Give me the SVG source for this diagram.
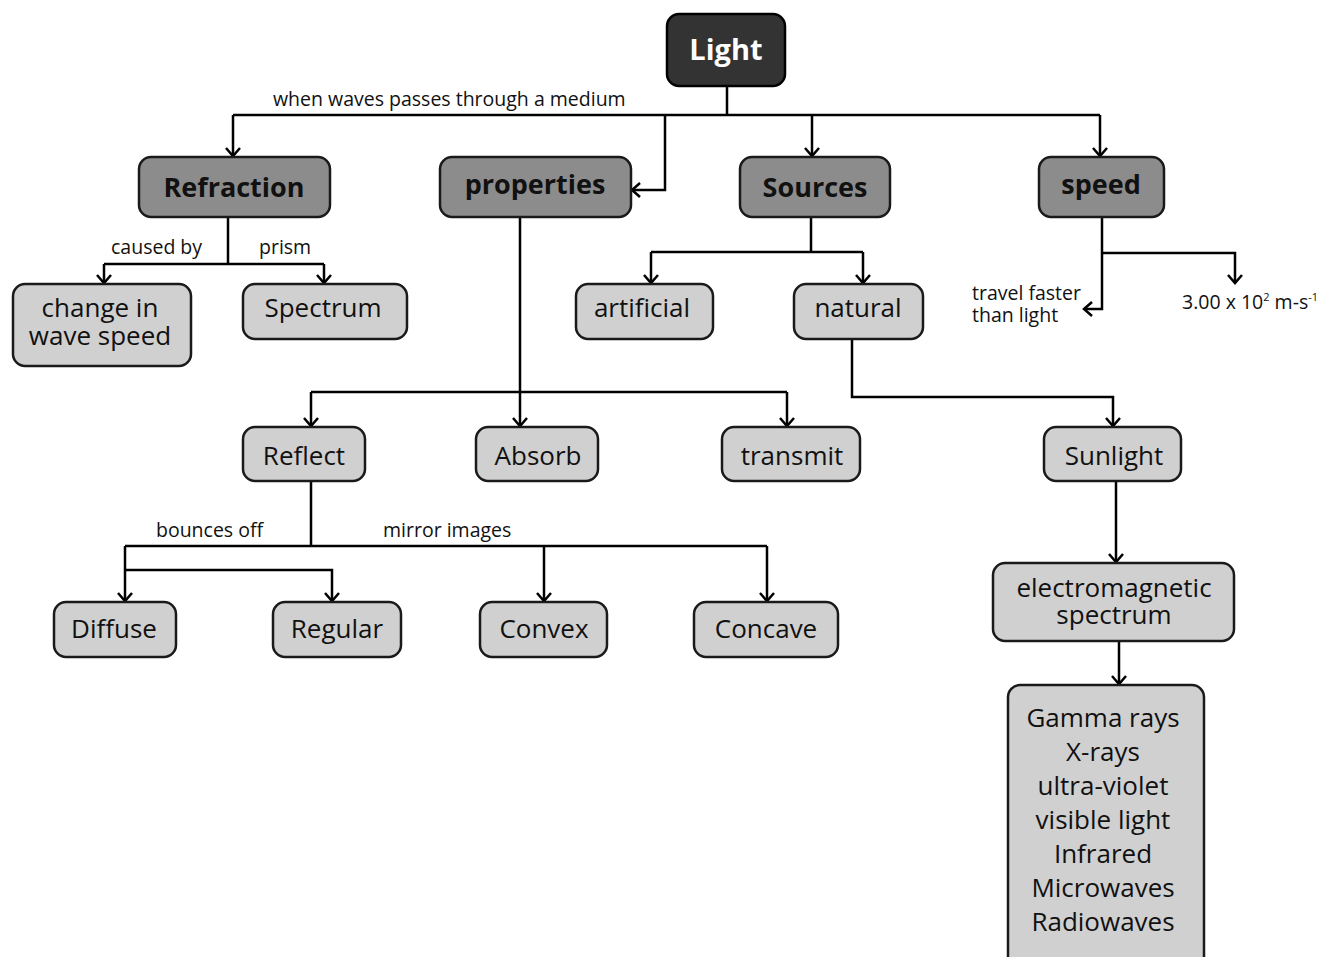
<svg xmlns="http://www.w3.org/2000/svg" width="1323" height="957" viewBox="0 0 1323 957">
<defs>
<marker id="arr" markerUnits="userSpaceOnUse" markerWidth="20" markerHeight="20" refX="11" refY="8" orient="auto">
<path d="M3,1 L11,8 L3,15" fill="none" stroke="#000" stroke-width="2.5"/>
</marker>
<style>
.bg{fill:#fff}
.root{fill:#333;stroke:#000;stroke-width:2.5}
.mid{fill:#8c8c8c;stroke:#1a1a1a;stroke-width:2.5}
.leaf{fill:#d0d0d0;stroke:#1a1a1a;stroke-width:2.5}
.c{fill:none;stroke:#000;stroke-width:2.5}
.ca{fill:none;stroke:#000;stroke-width:2.5;marker-end:url(#arr)}
text{font-family:"Open Sans","Liberation Sans",sans-serif;fill:#111}
.tb{font-weight:bold;font-size:27px;text-anchor:middle}
.tn{font-size:26px;text-anchor:middle}
.tl{font-size:19.5px}
</style>
</defs>
<rect class="bg" x="0" y="0" width="1323" height="957"/>
<g id="connectors">
<path class="c" d="M727,86 V115 M233,115 H1100"/>
<path class="ca" d="M233,115 V156"/>
<path class="ca" d="M665,115 V190 H632"/>
<path class="ca" d="M812,115 V156"/>
<path class="ca" d="M1100,115 V156"/>
<path class="c" d="M228,217 V264 M104,264 H324"/>
<path class="ca" d="M104,264 V283"/>
<path class="ca" d="M324,264 V283"/>
<path class="c" d="M520,217 V392 M311,392 H787"/>
<path class="ca" d="M311,392 V426"/>
<path class="ca" d="M520,392 V426"/>
<path class="ca" d="M787,392 V426"/>
<path class="c" d="M811,217 V252 M651,252 H863"/>
<path class="ca" d="M651,252 V283"/>
<path class="ca" d="M863,252 V283"/>
<path class="ca" d="M852,339 V397 H1113 V426"/>
<path class="ca" d="M1116,481 V562"/>
<path class="ca" d="M1119,641 V684"/>
<path class="ca" d="M1102,217 V309 H1084"/>
<path class="ca" d="M1102,253 H1235 V283"/>
<path class="c" d="M311,481 V546 M125,546 H767"/>
<path class="ca" d="M125,546 V601"/>
<path class="ca" d="M125,570 H332 V601"/>
<path class="ca" d="M544,546 V601"/>
<path class="ca" d="M767,546 V601"/>
</g>
<g id="labels">
<text class="tl" x="273" y="106">when waves passes through a medium</text>
<text class="tl" x="111" y="254">caused by</text>
<text class="tl" x="259" y="254">prism</text>
<text class="tl" x="156" y="537">bounces off</text>
<text class="tl" x="383" y="537">mirror images</text>
<text class="tl" x="972" y="300">travel faster<tspan x="972" dy="22">than light</tspan></text>
<text class="tl" x="1182" y="309">3.00 x 10<tspan font-size="11" dy="-8">2</tspan><tspan dy="8"> m-s</tspan><tspan font-size="11" dy="-8">-1</tspan></text>
</g>
<g id="light"><rect class="root" x="667" y="14" width="118" height="72" rx="12"/><text class="tb" x="726" y="60" style="fill:#fff;font-size:29px">Light</text></g>
<g id="refraction"><rect class="mid" x="139" y="157" width="191" height="60" rx="12"/><text class="tb" x="234" y="197">Refraction</text></g>
<g id="properties"><rect class="mid" x="440" y="157" width="191" height="60" rx="12"/><text class="tb" x="535" y="194">properties</text></g>
<g id="sources"><rect class="mid" x="740" y="157" width="150" height="60" rx="12"/><text class="tb" x="815" y="197">Sources</text></g>
<g id="speed"><rect class="mid" x="1039" y="157" width="125" height="60" rx="12"/><text class="tb" x="1101" y="194">speed</text></g>
<g id="change"><rect class="leaf" x="13" y="284" width="178" height="82" rx="12"/><text class="tn" x="100" y="317">change in<tspan x="100" dy="28">wave speed</tspan></text></g>
<g id="spectrum"><rect class="leaf" x="243" y="284" width="164" height="55" rx="12"/><text class="tn" x="323" y="317">Spectrum</text></g>
<g id="artificial"><rect class="leaf" x="576" y="284" width="137" height="55" rx="12"/><text class="tn" x="642" y="317">artificial</text></g>
<g id="natural"><rect class="leaf" x="794" y="284" width="129" height="55" rx="12"/><text class="tn" x="858" y="317">natural</text></g>
<g id="reflect"><rect class="leaf" x="243" y="427" width="122" height="54" rx="12"/><text class="tn" x="304" y="465">Reflect</text></g>
<g id="absorb"><rect class="leaf" x="476" y="427" width="122" height="54" rx="12"/><text class="tn" x="538" y="465">Absorb</text></g>
<g id="transmit"><rect class="leaf" x="722" y="427" width="138" height="54" rx="12"/><text class="tn" x="792" y="465">transmit</text></g>
<g id="sunlight"><rect class="leaf" x="1044" y="427" width="137" height="54" rx="12"/><text class="tn" x="1114" y="465">Sunlight</text></g>
<g id="em"><rect class="leaf" x="993" y="563" width="241" height="78" rx="12"/><text class="tn" x="1114" y="597">electromagnetic<tspan x="1114" dy="27">spectrum</tspan></text></g>
<g id="diffuse"><rect class="leaf" x="54" y="602" width="122" height="55" rx="12"/><text class="tn" x="114" y="638">Diffuse</text></g>
<g id="regular"><rect class="leaf" x="273" y="602" width="128" height="55" rx="12"/><text class="tn" x="337" y="638">Regular</text></g>
<g id="convex"><rect class="leaf" x="480" y="602" width="127" height="55" rx="12"/><text class="tn" x="544" y="638">Convex</text></g>
<g id="concave"><rect class="leaf" x="694" y="602" width="144" height="55" rx="12"/><text class="tn" x="766" y="638">Concave</text></g>
<g id="waves"><rect class="leaf" x="1008" y="685" width="196" height="290" rx="12"/>
<text class="tn" x="1103" y="727">Gamma rays<tspan x="1103" dy="34">X-rays</tspan><tspan x="1103" dy="34">ultra-violet</tspan><tspan x="1103" dy="34">visible light</tspan><tspan x="1103" dy="34">Infrared</tspan><tspan x="1103" dy="34">Microwaves</tspan><tspan x="1103" dy="34">Radiowaves</tspan></text>
</g>
</svg>
